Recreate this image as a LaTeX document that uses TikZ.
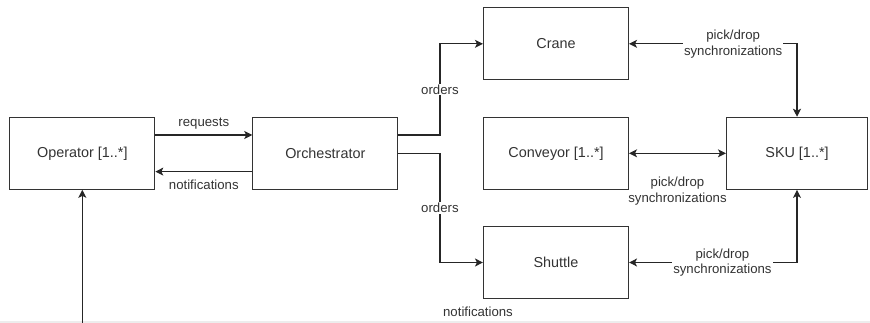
\documentclass[tikz,border=0pt]{standalone}
\usepackage{fontspec}
\setmainfont{Liberation Sans}
\usetikzlibrary{arrows.meta}
\begin{document}
\begin{tikzpicture}[x=1pt,y=-1pt,
  box/.style={draw=black!80, line width=1.1pt, minimum width=145pt, minimum height=72pt,
    inner sep=0pt, font=\fontsize{14.4}{17}\selectfont, text=black!80},
  tip/.style={Stealth[length=8pt,width=8pt,inset=2pt]},
  conn/.style={draw=black!85, line width=1.1pt, -{Stealth[length=8pt,width=8pt,inset=2pt]}},
  both/.style={draw=black!85, line width=1.1pt, {Stealth[length=8pt,width=8pt,inset=2pt]}-{Stealth[length=8pt,width=8pt,inset=2pt]}},
  lbl/.style={font=\fontsize{13.2}{15.8}\selectfont, text=black!80, align=center, inner sep=1pt},
  onl/.style={lbl, fill=white}]
\useasboundingbox (0,0) rectangle (870,323);
\fill[black!7] (0,321) rectangle (870,323);

\node[box] (op)    at (82.3,153.3) {Operator [1..*]};
\node[box] (orch)  at (325.3,153.3) {Orchestrator};
\node[box] (crane) at (556,43.8) {Crane};
\node[box] (conv)  at (556,153.3) {Conveyor [1..*]};
\node[box] (shut)  at (556,262.5) {Shuttle};
\node[box, minimum width=141pt] (sku) at (797,153.3) {SKU [1..*]};

\draw[conn] ([yshift=18.3pt]op.east) -- node[lbl, above=4pt]{requests} ([yshift=18.3pt]orch.west);
\draw[conn] ([yshift=-18.3pt]orch.west) -- node[lbl, below=7pt]{notifications} ([yshift=-18.3pt]op.east);

\draw[conn] ([yshift=18.3pt]orch.east) -| node[onl, pos=0.75]{orders} ([xshift=-43pt]crane.west) -- (crane.west);
\draw[conn] (orch.east) -| node[onl, pos=0.75]{orders} ([xshift=-43pt]shut.west) -- (shut.west);

\draw[both] (crane.east) -| node[onl, pos=0.31]{pick/drop\\synchronizations} (sku.north);
\draw[both] (conv.east) -- node[lbl, below=22pt]{pick/drop\\synchronizations} (sku.west);
\draw[both] (shut.east) -| node[onl, pos=0.278]{pick/drop\\synchronizations} (sku.south);

\coordinate (bot) at (82.3,330);
\draw[conn] (bot) -- (op.south);
\node[lbl] (nb) at (478,312) {notifications};
\end{tikzpicture}
\end{document}
